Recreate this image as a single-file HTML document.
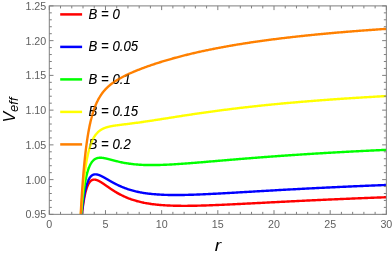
<!DOCTYPE html>
<html><head><meta charset="utf-8"><title>Veff</title>
<style>
html,body{margin:0;padding:0;background:#fff;}
body{width:392px;height:255px;overflow:hidden;font-family:"Liberation Sans",sans-serif;}
svg{display:block;will-change:transform;font-family:"Liberation Sans",sans-serif;}
</style></head><body>
<svg width="392" height="255" viewBox="0 0 392 255">
<rect width="392" height="255" fill="#fff"/>
<defs><clipPath id="c"><rect x="49.30" y="5.90" width="337.05" height="208.45"/></clipPath></defs>
<g><path d="M60.20 14.40H82.10" stroke="#ff0000" stroke-width="2.50" fill="none"/><text transform="translate(88.60 18.70) scale(0.917 1)" font-size="14.40" font-style="italic" fill="#000">B = 0</text><path d="M60.20 46.90H82.10" stroke="#0000ff" stroke-width="2.50" fill="none"/><text transform="translate(88.60 51.20) scale(0.917 1)" font-size="14.40" font-style="italic" fill="#000">B = 0.05</text><path d="M60.20 79.40H82.10" stroke="#00ff00" stroke-width="2.50" fill="none"/><text transform="translate(88.60 83.70) scale(0.917 1)" font-size="14.40" font-style="italic" fill="#000">B = 0.1</text><path d="M60.20 111.90H82.10" stroke="#ffff00" stroke-width="2.50" fill="none"/><text transform="translate(88.60 116.20) scale(0.917 1)" font-size="14.40" font-style="italic" fill="#000">B = 0.15</text><path d="M60.20 144.40H82.10" stroke="#ff8000" stroke-width="2.50" fill="none"/><text transform="translate(88.60 148.70) scale(0.917 1)" font-size="14.40" font-style="italic" fill="#000">B = 0.2</text></g>
<g clip-path="url(#c)" fill="none" stroke-width="2.40" stroke-linejoin="round"><path d="M79.20 249.08 L79.31 247.32 L79.41 245.61 L79.52 243.93 L79.62 242.29 L79.72 240.70 L79.83 239.14 L79.93 237.62 L80.04 236.13 L80.14 234.69 L80.25 233.27 L80.35 231.89 L80.45 230.54 L80.56 229.23 L80.66 227.94 L80.77 226.69 L80.87 225.46 L80.97 224.27 L81.08 223.10 L81.18 221.96 L81.29 220.85 L81.39 219.76 L81.50 218.70 L81.60 217.66 L81.70 216.65 L81.81 215.66 L81.91 214.70 L82.02 213.75 L82.12 212.83 L82.23 211.93 L82.33 211.06 L82.43 210.20 L82.54 209.36 L82.64 208.54 L82.75 207.74 L82.85 206.96 L82.95 206.20 L83.06 205.46 L83.16 204.73 L83.27 204.02 L83.37 203.33 L83.48 202.65 L83.58 201.99 L83.68 201.35 L83.79 200.72 L83.89 200.11 L84.00 199.51 L84.10 198.92 L84.20 198.35 L84.31 197.79 L84.41 197.25 L84.52 196.72 L84.62 196.20 L84.73 195.69 L84.83 195.20 L84.93 194.71 L85.04 194.24 L85.14 193.79 L85.25 193.34 L85.35 192.90 L85.45 192.48 L85.56 192.06 L85.66 191.66 L85.77 191.26 L85.87 190.88 L85.98 190.50 L86.08 190.14 L86.18 189.78 L86.29 189.43 L86.39 189.09 L86.50 188.76 L86.60 188.44 L86.70 188.13 L86.81 187.83 L86.91 187.53 L87.02 187.24 L87.12 186.96 L87.23 186.68 L87.33 186.42 L87.43 186.16 L87.54 185.91 L87.64 185.66 L87.75 185.42 L87.85 185.19 L87.96 184.97 L88.06 184.75 L88.16 184.54 L88.27 184.33 L88.37 184.13 L88.48 183.94 L88.58 183.75 L88.68 183.56 L88.79 183.39 L88.89 183.21 L89.00 183.05 L89.10 182.89 L89.21 182.73 L89.31 182.58 L89.41 182.43 L89.52 182.29 L89.62 182.15 L89.73 182.02 L89.83 181.89 L89.93 181.77 L90.04 181.65 L90.14 181.53 L90.25 181.42 L90.35 181.32 L90.46 181.21 L90.56 181.12 L90.66 181.02 L90.77 180.93 L90.87 180.84 L90.98 180.76 L91.08 180.68 L91.18 180.60 L91.29 180.53 L91.39 180.46 L91.50 180.39 L91.60 180.33 L91.71 180.27 L91.81 180.21 L91.91 180.15 L92.02 180.10 L92.12 180.05 L92.23 180.01 L92.33 179.97 L92.44 179.93 L92.54 179.89 L92.64 179.85 L92.75 179.82 L92.85 179.79 L92.96 179.76 L93.06 179.74 L93.16 179.72 L93.27 179.70 L93.37 179.68 L93.48 179.66 L93.58 179.65 L93.69 179.64 L93.79 179.63 L93.89 179.62 L94.00 179.61 L94.10 179.61 L94.21 179.61 L94.31 179.61 L94.41 179.61 L94.52 179.61 L94.62 179.62 L94.73 179.63 L94.83 179.64 L94.94 179.65 L95.04 179.66 L95.14 179.67 L95.25 179.69 L95.35 179.71 L95.46 179.73 L95.56 179.75 L95.66 179.77 L95.77 179.79 L95.87 179.81 L95.98 179.84 L96.08 179.87 L96.19 179.90 L96.29 179.92 L96.39 179.96 L96.50 179.99 L96.60 180.02 L96.71 180.05 L96.81 180.09 L96.92 180.13 L97.02 180.16 L97.12 180.20 L97.23 180.24 L97.33 180.28 L97.44 180.32 L97.54 180.37 L97.64 180.41 L97.75 180.45 L97.85 180.50 L97.96 180.55 L98.06 180.59 L98.17 180.64 L98.27 180.69 L98.37 180.74 L98.48 180.79 L98.58 180.84 L98.69 180.89 L98.79 180.94 L98.89 181.00 L99.00 181.05 L99.10 181.10 L99.21 181.16 L99.31 181.22 L99.42 181.27 L99.52 181.33 L99.62 181.39 L99.73 181.44 L99.83 181.50 L99.94 181.56 L100.04 181.62 L100.14 181.68 L100.25 181.74 L100.35 181.80 L100.46 181.87 L100.56 181.93 L100.67 181.99 L100.77 182.05 L100.87 182.12 L100.98 182.18 L101.08 182.25 L101.19 182.31 L101.29 182.38 L101.39 182.44 L101.50 182.51 L101.60 182.57 L101.71 182.64 L101.81 182.71 L101.92 182.77 L102.02 182.84 L102.12 182.91 L102.23 182.98 L102.33 183.04 L102.44 183.11 L102.54 183.18 L102.65 183.25 L102.75 183.32 L102.85 183.39 L102.96 183.46 L103.06 183.53 L103.17 183.60 L103.27 183.67 L103.37 183.74 L103.48 183.81 L103.58 183.88 L103.69 183.95 L103.79 184.02 L103.90 184.10 L104.00 184.17 L104.10 184.24 L104.21 184.31 L104.31 184.38 L104.42 184.45 L104.52 184.53 L104.62 184.60 L104.73 184.67 L104.83 184.74 L104.94 184.81 L105.04 184.89 L105.15 184.96 L105.25 185.03 L105.35 185.10 L105.46 185.18 L105.56 185.25 L105.67 185.32 L105.77 185.40 L105.87 185.47 L105.98 185.54 L106.08 185.61 L106.19 185.69 L106.29 185.76 L106.40 185.83 L106.50 185.91 L106.60 185.98 L106.71 186.05 L106.81 186.13 L106.92 186.20 L107.02 186.27 L107.13 186.34 L107.23 186.42 L107.33 186.49 L107.44 186.56 L107.54 186.64 L107.65 186.71 L107.75 186.78 L107.85 186.85 L107.96 186.93 L108.06 187.00 L108.17 187.07 L108.27 187.14 L108.38 187.22 L108.48 187.29 L108.58 187.36 L108.69 187.43 L108.79 187.50 L108.90 187.58 L109.00 187.65 L109.10 187.72 L109.21 187.79 L109.31 187.86 L109.42 187.93 L109.52 188.01 L109.63 188.08 L109.73 188.15 L109.83 188.22 L109.94 188.29 L110.04 188.36 L110.15 188.43 L110.25 188.50 L110.35 188.57 L110.46 188.64 L110.56 188.71 L110.67 188.78 L110.77 188.85 L110.88 188.92 L110.98 188.99 L111.08 189.06 L111.19 189.13 L111.29 189.20 L111.40 189.27 L111.50 189.34 L111.60 189.41 L111.71 189.48 L111.81 189.55 L111.92 189.62 L112.02 189.68 L112.13 189.75 L112.23 189.82 L112.33 189.89 L112.44 189.96 L112.54 190.02 L112.65 190.09 L112.75 190.16 L112.86 190.23 L112.96 190.29 L113.06 190.36 L113.17 190.43 L113.27 190.49 L113.38 190.56 L113.48 190.63 L113.58 190.69 L113.69 190.76 L113.79 190.82 L113.90 190.89 L114.00 190.96 L114.11 191.02 L114.21 191.09 L114.31 191.15 L114.42 191.22 L114.52 191.28 L114.63 191.35 L114.73 191.41 L114.83 191.47 L114.94 191.54 L115.04 191.60 L115.15 191.66 L115.25 191.73 L115.36 191.79 L115.46 191.85 L115.56 191.92 L115.67 191.98 L115.77 192.04 L115.88 192.10 L115.98 192.17 L116.08 192.23 L116.19 192.29 L116.29 192.35 L116.40 192.41 L116.50 192.48 L116.61 192.54 L116.71 192.60 L117.61 193.12 L118.51 193.62 L119.42 194.11 L120.32 194.59 L121.22 195.05 L122.12 195.50 L123.02 195.94 L123.92 196.36 L124.83 196.77 L125.73 197.17 L126.63 197.55 L127.53 197.92 L128.43 198.28 L129.34 198.62 L130.24 198.96 L131.14 199.28 L132.04 199.59 L132.94 199.89 L133.84 200.17 L134.75 200.45 L135.65 200.72 L136.55 200.98 L137.45 201.22 L138.35 201.46 L139.26 201.69 L140.16 201.91 L141.06 202.12 L141.96 202.32 L142.86 202.52 L143.76 202.71 L144.67 202.88 L145.57 203.06 L146.47 203.22 L147.37 203.38 L148.27 203.53 L149.18 203.67 L150.08 203.81 L150.98 203.94 L151.88 204.07 L152.78 204.19 L153.68 204.30 L154.59 204.41 L155.49 204.51 L156.39 204.61 L157.29 204.70 L158.19 204.79 L159.09 204.88 L160.00 204.96 L160.90 205.03 L161.80 205.10 L162.70 205.17 L163.60 205.23 L164.51 205.29 L165.41 205.35 L166.31 205.40 L167.21 205.45 L168.11 205.49 L169.01 205.53 L169.92 205.57 L170.82 205.61 L171.72 205.64 L172.62 205.67 L173.52 205.70 L174.43 205.72 L175.33 205.74 L176.23 205.76 L177.13 205.78 L178.03 205.79 L178.93 205.81 L179.84 205.82 L180.74 205.82 L181.64 205.83 L182.54 205.84 L183.44 205.84 L184.35 205.84 L185.25 205.84 L186.15 205.83 L187.05 205.83 L187.95 205.82 L188.85 205.81 L189.76 205.81 L190.66 205.79 L191.56 205.78 L192.46 205.77 L193.36 205.75 L194.27 205.74 L195.17 205.72 L196.07 205.70 L196.97 205.68 L197.87 205.66 L198.77 205.64 L199.68 205.62 L200.58 205.59 L201.48 205.57 L202.38 205.54 L203.28 205.51 L204.19 205.49 L205.09 205.46 L205.99 205.43 L206.89 205.40 L207.79 205.37 L208.69 205.34 L209.60 205.30 L210.50 205.27 L211.40 205.24 L212.30 205.20 L213.20 205.17 L214.11 205.13 L215.01 205.10 L215.91 205.06 L216.81 205.02 L217.71 204.99 L218.61 204.95 L219.52 204.91 L220.42 204.87 L221.32 204.83 L222.22 204.79 L223.12 204.75 L224.02 204.71 L224.93 204.67 L225.83 204.63 L226.73 204.59 L227.63 204.55 L228.53 204.51 L229.44 204.46 L230.34 204.42 L231.24 204.38 L232.14 204.33 L233.04 204.29 L233.94 204.25 L234.85 204.20 L235.75 204.16 L236.65 204.12 L237.55 204.07 L238.45 204.03 L239.36 203.98 L240.26 203.94 L241.16 203.89 L242.06 203.85 L242.96 203.80 L243.86 203.76 L244.77 203.71 L245.67 203.67 L246.57 203.62 L247.47 203.57 L248.37 203.53 L249.28 203.48 L250.18 203.44 L251.08 203.39 L251.98 203.34 L252.88 203.30 L253.78 203.25 L254.69 203.20 L255.59 203.16 L256.49 203.11 L257.39 203.06 L258.29 203.02 L259.20 202.97 L260.10 202.93 L261.00 202.88 L261.90 202.83 L262.80 202.79 L263.70 202.74 L264.61 202.69 L265.51 202.65 L266.41 202.60 L267.31 202.55 L268.21 202.51 L269.12 202.46 L270.02 202.41 L270.92 202.37 L271.82 202.32 L272.72 202.28 L273.62 202.23 L274.53 202.18 L275.43 202.14 L276.33 202.09 L277.23 202.05 L278.13 202.00 L279.04 201.95 L279.94 201.91 L280.84 201.86 L281.74 201.82 L282.64 201.77 L283.54 201.73 L284.45 201.68 L285.35 201.64 L286.25 201.59 L287.15 201.54 L288.05 201.50 L288.95 201.45 L289.86 201.41 L290.76 201.36 L291.66 201.32 L292.56 201.28 L293.46 201.23 L294.37 201.19 L295.27 201.14 L296.17 201.10 L297.07 201.05 L297.97 201.01 L298.87 200.97 L299.78 200.92 L300.68 200.88 L301.58 200.83 L302.48 200.79 L303.38 200.75 L304.29 200.70 L305.19 200.66 L306.09 200.62 L306.99 200.57 L307.89 200.53 L308.79 200.49 L309.70 200.45 L310.60 200.40 L311.50 200.36 L312.40 200.32 L313.30 200.28 L314.21 200.23 L315.11 200.19 L316.01 200.15 L316.91 200.11 L317.81 200.07 L318.71 200.02 L319.62 199.98 L320.52 199.94 L321.42 199.90 L322.32 199.86 L323.22 199.82 L324.13 199.78 L325.03 199.74 L325.93 199.69 L326.83 199.65 L327.73 199.61 L328.63 199.57 L329.54 199.53 L330.44 199.49 L331.34 199.45 L332.24 199.41 L333.14 199.37 L334.05 199.33 L334.95 199.29 L335.85 199.25 L336.75 199.21 L337.65 199.18 L338.55 199.14 L339.46 199.10 L340.36 199.06 L341.26 199.02 L342.16 198.98 L343.06 198.94 L343.97 198.90 L344.87 198.87 L345.77 198.83 L346.67 198.79 L347.57 198.75 L348.47 198.71 L349.38 198.68 L350.28 198.64 L351.18 198.60 L352.08 198.56 L352.98 198.53 L353.88 198.49 L354.79 198.45 L355.69 198.42 L356.59 198.38 L357.49 198.34 L358.39 198.31 L359.30 198.27 L360.20 198.23 L361.10 198.20 L362.00 198.16 L362.90 198.12 L363.80 198.09 L364.71 198.05 L365.61 198.02 L366.51 197.98 L367.41 197.95 L368.31 197.91 L369.22 197.88 L370.12 197.84 L371.02 197.81 L371.92 197.77 L372.82 197.74 L373.72 197.70 L374.63 197.67 L375.53 197.63 L376.43 197.60 L377.33 197.56 L378.23 197.53 L379.14 197.50 L380.04 197.46 L380.94 197.43 L381.84 197.39 L382.74 197.36 L383.64 197.33 L384.55 197.29 L385.45 197.26 L386.35 197.23" stroke="#ff0000"/><path d="M79.20 248.43 L79.31 246.62 L79.41 244.84 L79.52 243.12 L79.62 241.43 L79.72 239.78 L79.83 238.17 L79.93 236.60 L80.04 235.07 L80.14 233.57 L80.25 232.11 L80.35 230.68 L80.45 229.29 L80.56 227.93 L80.66 226.60 L80.77 225.30 L80.87 224.03 L80.97 222.79 L81.08 221.58 L81.18 220.39 L81.29 219.24 L81.39 218.11 L81.50 217.00 L81.60 215.93 L81.70 214.87 L81.81 213.84 L81.91 212.84 L82.02 211.85 L82.12 210.89 L82.23 209.95 L82.33 209.04 L82.43 208.14 L82.54 207.26 L82.64 206.41 L82.75 205.57 L82.85 204.75 L82.95 203.95 L83.06 203.17 L83.16 202.41 L83.27 201.66 L83.37 200.94 L83.48 200.22 L83.58 199.53 L83.68 198.85 L83.79 198.18 L83.89 197.53 L84.00 196.90 L84.10 196.28 L84.20 195.67 L84.31 195.08 L84.41 194.50 L84.52 193.94 L84.62 193.39 L84.73 192.85 L84.83 192.32 L84.93 191.81 L85.04 191.31 L85.14 190.82 L85.25 190.34 L85.35 189.87 L85.45 189.41 L85.56 188.97 L85.66 188.53 L85.77 188.10 L85.87 187.69 L85.98 187.28 L86.08 186.89 L86.18 186.50 L86.29 186.12 L86.39 185.76 L86.50 185.40 L86.60 185.05 L86.70 184.70 L86.81 184.37 L86.91 184.05 L87.02 183.73 L87.12 183.42 L87.23 183.12 L87.33 182.82 L87.43 182.54 L87.54 182.26 L87.64 181.98 L87.75 181.72 L87.85 181.46 L87.96 181.21 L88.06 180.96 L88.16 180.72 L88.27 180.49 L88.37 180.26 L88.48 180.04 L88.58 179.83 L88.68 179.62 L88.79 179.41 L88.89 179.22 L89.00 179.02 L89.10 178.84 L89.21 178.66 L89.31 178.48 L89.41 178.31 L89.52 178.14 L89.62 177.98 L89.73 177.82 L89.83 177.67 L89.93 177.52 L90.04 177.38 L90.14 177.24 L90.25 177.10 L90.35 176.97 L90.46 176.85 L90.56 176.72 L90.66 176.61 L90.77 176.49 L90.87 176.38 L90.98 176.27 L91.08 176.17 L91.18 176.07 L91.29 175.97 L91.39 175.88 L91.50 175.79 L91.60 175.71 L91.71 175.62 L91.81 175.54 L91.91 175.47 L92.02 175.39 L92.12 175.32 L92.23 175.25 L92.33 175.19 L92.44 175.13 L92.54 175.07 L92.64 175.01 L92.75 174.96 L92.85 174.91 L92.96 174.86 L93.06 174.81 L93.16 174.77 L93.27 174.73 L93.37 174.69 L93.48 174.65 L93.58 174.62 L93.69 174.59 L93.79 174.56 L93.89 174.53 L94.00 174.50 L94.10 174.48 L94.21 174.46 L94.31 174.44 L94.41 174.42 L94.52 174.40 L94.62 174.39 L94.73 174.38 L94.83 174.37 L94.94 174.36 L95.04 174.35 L95.14 174.35 L95.25 174.34 L95.35 174.34 L95.46 174.34 L95.56 174.34 L95.66 174.34 L95.77 174.35 L95.87 174.35 L95.98 174.36 L96.08 174.37 L96.19 174.38 L96.29 174.39 L96.39 174.40 L96.50 174.42 L96.60 174.43 L96.71 174.45 L96.81 174.46 L96.92 174.48 L97.02 174.50 L97.12 174.52 L97.23 174.55 L97.33 174.57 L97.44 174.59 L97.54 174.62 L97.64 174.64 L97.75 174.67 L97.85 174.70 L97.96 174.73 L98.06 174.76 L98.17 174.79 L98.27 174.82 L98.37 174.85 L98.48 174.88 L98.58 174.92 L98.69 174.95 L98.79 174.99 L98.89 175.03 L99.00 175.06 L99.10 175.10 L99.21 175.14 L99.31 175.18 L99.42 175.22 L99.52 175.26 L99.62 175.30 L99.73 175.34 L99.83 175.39 L99.94 175.43 L100.04 175.47 L100.14 175.52 L100.25 175.56 L100.35 175.61 L100.46 175.65 L100.56 175.70 L100.67 175.75 L100.77 175.80 L100.87 175.84 L100.98 175.89 L101.08 175.94 L101.19 175.99 L101.29 176.04 L101.39 176.09 L101.50 176.14 L101.60 176.19 L101.71 176.24 L101.81 176.30 L101.92 176.35 L102.02 176.40 L102.12 176.45 L102.23 176.51 L102.33 176.56 L102.44 176.61 L102.54 176.67 L102.65 176.72 L102.75 176.78 L102.85 176.83 L102.96 176.89 L103.06 176.94 L103.17 177.00 L103.27 177.06 L103.37 177.11 L103.48 177.17 L103.58 177.23 L103.69 177.28 L103.79 177.34 L103.90 177.40 L104.00 177.46 L104.10 177.51 L104.21 177.57 L104.31 177.63 L104.42 177.69 L104.52 177.75 L104.62 177.81 L104.73 177.86 L104.83 177.92 L104.94 177.98 L105.04 178.04 L105.15 178.10 L105.25 178.16 L105.35 178.22 L105.46 178.28 L105.56 178.34 L105.67 178.40 L105.77 178.46 L105.87 178.52 L105.98 178.58 L106.08 178.64 L106.19 178.70 L106.29 178.76 L106.40 178.82 L106.50 178.88 L106.60 178.94 L106.71 179.00 L106.81 179.06 L106.92 179.12 L107.02 179.18 L107.13 179.24 L107.23 179.30 L107.33 179.36 L107.44 179.42 L107.54 179.48 L107.65 179.55 L107.75 179.61 L107.85 179.67 L107.96 179.73 L108.06 179.79 L108.17 179.85 L108.27 179.91 L108.38 179.97 L108.48 180.03 L108.58 180.09 L108.69 180.15 L108.79 180.21 L108.90 180.27 L109.00 180.33 L109.10 180.39 L109.21 180.45 L109.31 180.51 L109.42 180.57 L109.52 180.63 L109.63 180.69 L109.73 180.75 L109.83 180.81 L109.94 180.87 L110.04 180.93 L110.15 180.99 L110.25 181.05 L110.35 181.11 L110.46 181.17 L110.56 181.23 L110.67 181.29 L110.77 181.35 L110.88 181.40 L110.98 181.46 L111.08 181.52 L111.19 181.58 L111.29 181.64 L111.40 181.70 L111.50 181.76 L111.60 181.81 L111.71 181.87 L111.81 181.93 L111.92 181.99 L112.02 182.05 L112.13 182.10 L112.23 182.16 L112.33 182.22 L112.44 182.28 L112.54 182.33 L112.65 182.39 L112.75 182.45 L112.86 182.51 L112.96 182.56 L113.06 182.62 L113.17 182.68 L113.27 182.73 L113.38 182.79 L113.48 182.84 L113.58 182.90 L113.69 182.96 L113.79 183.01 L113.90 183.07 L114.00 183.12 L114.11 183.18 L114.21 183.23 L114.31 183.29 L114.42 183.34 L114.52 183.40 L114.63 183.45 L114.73 183.51 L114.83 183.56 L114.94 183.62 L115.04 183.67 L115.15 183.73 L115.25 183.78 L115.36 183.83 L115.46 183.89 L115.56 183.94 L115.67 183.99 L115.77 184.05 L115.88 184.10 L115.98 184.15 L116.08 184.21 L116.19 184.26 L116.29 184.31 L116.40 184.36 L116.50 184.41 L116.61 184.47 L116.71 184.52 L117.61 184.96 L118.51 185.39 L119.42 185.81 L120.32 186.21 L121.22 186.61 L122.12 186.99 L123.02 187.36 L123.92 187.71 L124.83 188.06 L125.73 188.39 L126.63 188.72 L127.53 189.03 L128.43 189.33 L129.34 189.62 L130.24 189.90 L131.14 190.16 L132.04 190.42 L132.94 190.67 L133.84 190.91 L134.75 191.14 L135.65 191.36 L136.55 191.57 L137.45 191.77 L138.35 191.96 L139.26 192.15 L140.16 192.33 L141.06 192.49 L141.96 192.66 L142.86 192.81 L143.76 192.96 L144.67 193.10 L145.57 193.23 L146.47 193.36 L147.37 193.48 L148.27 193.60 L149.18 193.71 L150.08 193.81 L150.98 193.91 L151.88 194.00 L152.78 194.09 L153.68 194.17 L154.59 194.25 L155.49 194.32 L156.39 194.39 L157.29 194.46 L158.19 194.52 L159.09 194.57 L160.00 194.63 L160.90 194.67 L161.80 194.72 L162.70 194.76 L163.60 194.80 L164.51 194.83 L165.41 194.86 L166.31 194.89 L167.21 194.91 L168.11 194.94 L169.01 194.96 L169.92 194.97 L170.82 194.99 L171.72 195.00 L172.62 195.00 L173.52 195.01 L174.43 195.02 L175.33 195.02 L176.23 195.02 L177.13 195.01 L178.03 195.01 L178.93 195.00 L179.84 194.99 L180.74 194.98 L181.64 194.97 L182.54 194.96 L183.44 194.94 L184.35 194.93 L185.25 194.91 L186.15 194.89 L187.05 194.87 L187.95 194.85 L188.85 194.82 L189.76 194.80 L190.66 194.77 L191.56 194.74 L192.46 194.71 L193.36 194.68 L194.27 194.65 L195.17 194.62 L196.07 194.59 L196.97 194.55 L197.87 194.52 L198.77 194.48 L199.68 194.45 L200.58 194.41 L201.48 194.37 L202.38 194.33 L203.28 194.30 L204.19 194.26 L205.09 194.21 L205.99 194.17 L206.89 194.13 L207.79 194.09 L208.69 194.05 L209.60 194.00 L210.50 193.96 L211.40 193.91 L212.30 193.87 L213.20 193.82 L214.11 193.78 L215.01 193.73 L215.91 193.68 L216.81 193.63 L217.71 193.59 L218.61 193.54 L219.52 193.49 L220.42 193.44 L221.32 193.39 L222.22 193.34 L223.12 193.29 L224.02 193.24 L224.93 193.19 L225.83 193.14 L226.73 193.09 L227.63 193.04 L228.53 192.99 L229.44 192.94 L230.34 192.89 L231.24 192.84 L232.14 192.79 L233.04 192.74 L233.94 192.68 L234.85 192.63 L235.75 192.58 L236.65 192.53 L237.55 192.47 L238.45 192.42 L239.36 192.37 L240.26 192.32 L241.16 192.27 L242.06 192.21 L242.96 192.16 L243.86 192.11 L244.77 192.05 L245.67 192.00 L246.57 191.95 L247.47 191.90 L248.37 191.84 L249.28 191.79 L250.18 191.74 L251.08 191.68 L251.98 191.63 L252.88 191.58 L253.78 191.53 L254.69 191.47 L255.59 191.42 L256.49 191.37 L257.39 191.32 L258.29 191.26 L259.20 191.21 L260.10 191.16 L261.00 191.11 L261.90 191.05 L262.80 191.00 L263.70 190.95 L264.61 190.90 L265.51 190.84 L266.41 190.79 L267.31 190.74 L268.21 190.69 L269.12 190.64 L270.02 190.58 L270.92 190.53 L271.82 190.48 L272.72 190.43 L273.62 190.38 L274.53 190.33 L275.43 190.28 L276.33 190.23 L277.23 190.17 L278.13 190.12 L279.04 190.07 L279.94 190.02 L280.84 189.97 L281.74 189.92 L282.64 189.87 L283.54 189.82 L284.45 189.77 L285.35 189.72 L286.25 189.67 L287.15 189.62 L288.05 189.57 L288.95 189.52 L289.86 189.47 L290.76 189.42 L291.66 189.37 L292.56 189.33 L293.46 189.28 L294.37 189.23 L295.27 189.18 L296.17 189.13 L297.07 189.08 L297.97 189.03 L298.87 188.99 L299.78 188.94 L300.68 188.89 L301.58 188.84 L302.48 188.80 L303.38 188.75 L304.29 188.70 L305.19 188.65 L306.09 188.61 L306.99 188.56 L307.89 188.51 L308.79 188.47 L309.70 188.42 L310.60 188.37 L311.50 188.33 L312.40 188.28 L313.30 188.24 L314.21 188.19 L315.11 188.14 L316.01 188.10 L316.91 188.05 L317.81 188.01 L318.71 187.96 L319.62 187.92 L320.52 187.87 L321.42 187.83 L322.32 187.78 L323.22 187.74 L324.13 187.70 L325.03 187.65 L325.93 187.61 L326.83 187.56 L327.73 187.52 L328.63 187.48 L329.54 187.43 L330.44 187.39 L331.34 187.35 L332.24 187.31 L333.14 187.26 L334.05 187.22 L334.95 187.18 L335.85 187.13 L336.75 187.09 L337.65 187.05 L338.55 187.01 L339.46 186.97 L340.36 186.92 L341.26 186.88 L342.16 186.84 L343.06 186.80 L343.97 186.76 L344.87 186.72 L345.77 186.68 L346.67 186.64 L347.57 186.60 L348.47 186.56 L349.38 186.52 L350.28 186.48 L351.18 186.44 L352.08 186.40 L352.98 186.36 L353.88 186.32 L354.79 186.28 L355.69 186.24 L356.59 186.20 L357.49 186.16 L358.39 186.12 L359.30 186.08 L360.20 186.04 L361.10 186.00 L362.00 185.97 L362.90 185.93 L363.80 185.89 L364.71 185.85 L365.61 185.81 L366.51 185.77 L367.41 185.74 L368.31 185.70 L369.22 185.66 L370.12 185.62 L371.02 185.59 L371.92 185.55 L372.82 185.51 L373.72 185.48 L374.63 185.44 L375.53 185.40 L376.43 185.37 L377.33 185.33 L378.23 185.29 L379.14 185.26 L380.04 185.22 L380.94 185.19 L381.84 185.15 L382.74 185.12 L383.64 185.08 L384.55 185.04 L385.45 185.01 L386.35 184.97" stroke="#0000ff"/><path d="M79.10 248.95 L79.20 246.93 L79.31 244.96 L79.41 243.03 L79.52 241.14 L79.62 239.30 L79.72 237.50 L79.83 235.74 L79.93 234.02 L80.04 232.34 L80.14 230.70 L80.25 229.09 L80.35 227.52 L80.45 225.99 L80.56 224.49 L80.66 223.02 L80.77 221.59 L80.87 220.18 L80.97 218.81 L81.08 217.47 L81.18 216.15 L81.29 214.87 L81.39 213.61 L81.50 212.38 L81.60 211.18 L81.70 210.00 L81.81 208.85 L81.91 207.72 L82.02 206.62 L82.12 205.54 L82.23 204.48 L82.33 203.44 L82.43 202.43 L82.54 201.44 L82.64 200.47 L82.75 199.52 L82.85 198.59 L82.95 197.68 L83.06 196.79 L83.16 195.92 L83.27 195.06 L83.37 194.23 L83.48 193.41 L83.58 192.61 L83.68 191.82 L83.79 191.05 L83.89 190.30 L84.00 189.56 L84.10 188.84 L84.20 188.14 L84.31 187.44 L84.41 186.77 L84.52 186.10 L84.62 185.45 L84.73 184.82 L84.83 184.19 L84.93 183.58 L85.04 182.99 L85.14 182.40 L85.25 181.83 L85.35 181.27 L85.45 180.72 L85.56 180.18 L85.66 179.65 L85.77 179.13 L85.87 178.63 L85.98 178.13 L86.08 177.65 L86.18 177.17 L86.29 176.71 L86.39 176.25 L86.50 175.81 L86.60 175.37 L86.70 174.94 L86.81 174.52 L86.91 174.11 L87.02 173.71 L87.12 173.32 L87.23 172.94 L87.33 172.56 L87.43 172.19 L87.54 171.83 L87.64 171.48 L87.75 171.13 L87.85 170.79 L87.96 170.46 L88.06 170.13 L88.16 169.82 L88.27 169.50 L88.37 169.20 L88.48 168.90 L88.58 168.61 L88.68 168.32 L88.79 168.05 L88.89 167.77 L89.00 167.50 L89.10 167.24 L89.21 166.99 L89.31 166.74 L89.41 166.49 L89.52 166.25 L89.62 166.02 L89.73 165.79 L89.83 165.56 L89.93 165.34 L90.04 165.13 L90.14 164.92 L90.25 164.71 L90.35 164.51 L90.46 164.32 L90.56 164.12 L90.66 163.94 L90.77 163.75 L90.87 163.57 L90.98 163.40 L91.08 163.23 L91.18 163.06 L91.29 162.90 L91.39 162.74 L91.50 162.58 L91.60 162.43 L91.71 162.28 L91.81 162.14 L91.91 161.99 L92.02 161.86 L92.12 161.72 L92.23 161.59 L92.33 161.46 L92.44 161.34 L92.54 161.21 L92.64 161.09 L92.75 160.98 L92.85 160.87 L92.96 160.75 L93.06 160.65 L93.16 160.54 L93.27 160.44 L93.37 160.34 L93.48 160.24 L93.58 160.15 L93.69 160.06 L93.79 159.97 L93.89 159.88 L94.00 159.80 L94.10 159.71 L94.21 159.63 L94.31 159.55 L94.41 159.48 L94.52 159.41 L94.62 159.33 L94.73 159.26 L94.83 159.20 L94.94 159.13 L95.04 159.07 L95.14 159.01 L95.25 158.95 L95.35 158.89 L95.46 158.83 L95.56 158.78 L95.66 158.73 L95.77 158.68 L95.87 158.63 L95.98 158.58 L96.08 158.54 L96.19 158.49 L96.29 158.45 L96.39 158.41 L96.50 158.37 L96.60 158.33 L96.71 158.29 L96.81 158.26 L96.92 158.22 L97.02 158.19 L97.12 158.16 L97.23 158.13 L97.33 158.10 L97.44 158.08 L97.54 158.05 L97.64 158.03 L97.75 158.00 L97.85 157.98 L97.96 157.96 L98.06 157.94 L98.17 157.92 L98.27 157.90 L98.37 157.89 L98.48 157.87 L98.58 157.86 L98.69 157.84 L98.79 157.83 L98.89 157.82 L99.00 157.81 L99.10 157.80 L99.21 157.79 L99.31 157.78 L99.42 157.77 L99.52 157.77 L99.62 157.76 L99.73 157.76 L99.83 157.75 L99.94 157.75 L100.04 157.75 L100.14 157.75 L100.25 157.75 L100.35 157.75 L100.46 157.75 L100.56 157.75 L100.67 157.75 L100.77 157.75 L100.87 157.76 L100.98 157.76 L101.08 157.76 L101.19 157.77 L101.29 157.78 L101.39 157.78 L101.50 157.79 L101.60 157.80 L101.71 157.81 L101.81 157.81 L101.92 157.82 L102.02 157.83 L102.12 157.84 L102.23 157.86 L102.33 157.87 L102.44 157.88 L102.54 157.89 L102.65 157.90 L102.75 157.92 L102.85 157.93 L102.96 157.94 L103.06 157.96 L103.17 157.97 L103.27 157.99 L103.37 158.00 L103.48 158.02 L103.58 158.04 L103.69 158.05 L103.79 158.07 L103.90 158.09 L104.00 158.11 L104.10 158.13 L104.21 158.14 L104.31 158.16 L104.42 158.18 L104.52 158.20 L104.62 158.22 L104.73 158.24 L104.83 158.26 L104.94 158.28 L105.04 158.30 L105.15 158.32 L105.25 158.35 L105.35 158.37 L105.46 158.39 L105.56 158.41 L105.67 158.43 L105.77 158.46 L105.87 158.48 L105.98 158.50 L106.08 158.52 L106.19 158.55 L106.29 158.57 L106.40 158.60 L106.50 158.62 L106.60 158.64 L106.71 158.67 L106.81 158.69 L106.92 158.72 L107.02 158.74 L107.13 158.77 L107.23 158.79 L107.33 158.82 L107.44 158.84 L107.54 158.87 L107.65 158.89 L107.75 158.92 L107.85 158.94 L107.96 158.97 L108.06 159.00 L108.17 159.02 L108.27 159.05 L108.38 159.07 L108.48 159.10 L108.58 159.13 L108.69 159.15 L108.79 159.18 L108.90 159.21 L109.00 159.23 L109.10 159.26 L109.21 159.29 L109.31 159.31 L109.42 159.34 L109.52 159.37 L109.63 159.40 L109.73 159.42 L109.83 159.45 L109.94 159.48 L110.04 159.50 L110.15 159.53 L110.25 159.56 L110.35 159.59 L110.46 159.61 L110.56 159.64 L110.67 159.67 L110.77 159.70 L110.88 159.72 L110.98 159.75 L111.08 159.78 L111.19 159.81 L111.29 159.84 L111.40 159.86 L111.50 159.89 L111.60 159.92 L111.71 159.95 L111.81 159.97 L111.92 160.00 L112.02 160.03 L112.13 160.06 L112.23 160.08 L112.33 160.11 L112.44 160.14 L112.54 160.17 L112.65 160.19 L112.75 160.22 L112.86 160.25 L112.96 160.28 L113.06 160.30 L113.17 160.33 L113.27 160.36 L113.38 160.39 L113.48 160.41 L113.58 160.44 L113.69 160.47 L113.79 160.49 L113.90 160.52 L114.00 160.55 L114.11 160.58 L114.21 160.60 L114.31 160.63 L114.42 160.66 L114.52 160.68 L114.63 160.71 L114.73 160.74 L114.83 160.76 L114.94 160.79 L115.04 160.82 L115.15 160.84 L115.25 160.87 L115.36 160.90 L115.46 160.92 L115.56 160.95 L115.67 160.98 L115.77 161.00 L115.88 161.03 L115.98 161.05 L116.08 161.08 L116.19 161.11 L116.29 161.13 L116.40 161.16 L116.50 161.18 L116.61 161.21 L116.71 161.23 L117.61 161.45 L118.51 161.67 L119.42 161.87 L120.32 162.07 L121.22 162.27 L122.12 162.45 L123.02 162.63 L123.92 162.81 L124.83 162.97 L125.73 163.13 L126.63 163.28 L127.53 163.42 L128.43 163.56 L129.34 163.69 L130.24 163.81 L131.14 163.93 L132.04 164.04 L132.94 164.14 L133.84 164.24 L134.75 164.33 L135.65 164.41 L136.55 164.49 L137.45 164.57 L138.35 164.63 L139.26 164.70 L140.16 164.75 L141.06 164.80 L141.96 164.85 L142.86 164.89 L143.76 164.93 L144.67 164.96 L145.57 164.99 L146.47 165.01 L147.37 165.03 L148.27 165.05 L149.18 165.06 L150.08 165.07 L150.98 165.07 L151.88 165.07 L152.78 165.07 L153.68 165.07 L154.59 165.06 L155.49 165.05 L156.39 165.03 L157.29 165.01 L158.19 164.99 L159.09 164.97 L160.00 164.95 L160.90 164.92 L161.80 164.89 L162.70 164.86 L163.60 164.82 L164.51 164.79 L165.41 164.75 L166.31 164.71 L167.21 164.67 L168.11 164.62 L169.01 164.58 L169.92 164.53 L170.82 164.48 L171.72 164.43 L172.62 164.38 L173.52 164.33 L174.43 164.27 L175.33 164.22 L176.23 164.16 L177.13 164.10 L178.03 164.04 L178.93 163.98 L179.84 163.92 L180.74 163.86 L181.64 163.80 L182.54 163.73 L183.44 163.67 L184.35 163.60 L185.25 163.54 L186.15 163.47 L187.05 163.40 L187.95 163.34 L188.85 163.27 L189.76 163.20 L190.66 163.13 L191.56 163.06 L192.46 162.99 L193.36 162.91 L194.27 162.84 L195.17 162.77 L196.07 162.70 L196.97 162.62 L197.87 162.55 L198.77 162.48 L199.68 162.40 L200.58 162.33 L201.48 162.25 L202.38 162.18 L203.28 162.10 L204.19 162.03 L205.09 161.95 L205.99 161.88 L206.89 161.80 L207.79 161.72 L208.69 161.65 L209.60 161.57 L210.50 161.50 L211.40 161.42 L212.30 161.34 L213.20 161.27 L214.11 161.19 L215.01 161.11 L215.91 161.04 L216.81 160.96 L217.71 160.88 L218.61 160.81 L219.52 160.73 L220.42 160.65 L221.32 160.58 L222.22 160.50 L223.12 160.42 L224.02 160.35 L224.93 160.27 L225.83 160.20 L226.73 160.12 L227.63 160.04 L228.53 159.97 L229.44 159.89 L230.34 159.82 L231.24 159.74 L232.14 159.67 L233.04 159.59 L233.94 159.52 L234.85 159.44 L235.75 159.37 L236.65 159.29 L237.55 159.22 L238.45 159.14 L239.36 159.07 L240.26 158.99 L241.16 158.92 L242.06 158.85 L242.96 158.77 L243.86 158.70 L244.77 158.63 L245.67 158.55 L246.57 158.48 L247.47 158.41 L248.37 158.34 L249.28 158.26 L250.18 158.19 L251.08 158.12 L251.98 158.05 L252.88 157.98 L253.78 157.91 L254.69 157.84 L255.59 157.77 L256.49 157.69 L257.39 157.62 L258.29 157.55 L259.20 157.48 L260.10 157.42 L261.00 157.35 L261.90 157.28 L262.80 157.21 L263.70 157.14 L264.61 157.07 L265.51 157.00 L266.41 156.93 L267.31 156.87 L268.21 156.80 L269.12 156.73 L270.02 156.67 L270.92 156.60 L271.82 156.53 L272.72 156.47 L273.62 156.40 L274.53 156.33 L275.43 156.27 L276.33 156.20 L277.23 156.14 L278.13 156.07 L279.04 156.01 L279.94 155.94 L280.84 155.88 L281.74 155.82 L282.64 155.75 L283.54 155.69 L284.45 155.63 L285.35 155.56 L286.25 155.50 L287.15 155.44 L288.05 155.38 L288.95 155.31 L289.86 155.25 L290.76 155.19 L291.66 155.13 L292.56 155.07 L293.46 155.01 L294.37 154.95 L295.27 154.89 L296.17 154.83 L297.07 154.77 L297.97 154.71 L298.87 154.65 L299.78 154.59 L300.68 154.53 L301.58 154.47 L302.48 154.41 L303.38 154.35 L304.29 154.29 L305.19 154.24 L306.09 154.18 L306.99 154.12 L307.89 154.06 L308.79 154.01 L309.70 153.95 L310.60 153.89 L311.50 153.84 L312.40 153.78 L313.30 153.72 L314.21 153.67 L315.11 153.61 L316.01 153.56 L316.91 153.50 L317.81 153.45 L318.71 153.39 L319.62 153.34 L320.52 153.29 L321.42 153.23 L322.32 153.18 L323.22 153.12 L324.13 153.07 L325.03 153.02 L325.93 152.97 L326.83 152.91 L327.73 152.86 L328.63 152.81 L329.54 152.76 L330.44 152.70 L331.34 152.65 L332.24 152.60 L333.14 152.55 L334.05 152.50 L334.95 152.45 L335.85 152.40 L336.75 152.35 L337.65 152.30 L338.55 152.25 L339.46 152.20 L340.36 152.15 L341.26 152.10 L342.16 152.05 L343.06 152.00 L343.97 151.95 L344.87 151.90 L345.77 151.85 L346.67 151.80 L347.57 151.76 L348.47 151.71 L349.38 151.66 L350.28 151.61 L351.18 151.57 L352.08 151.52 L352.98 151.47 L353.88 151.42 L354.79 151.38 L355.69 151.33 L356.59 151.28 L357.49 151.24 L358.39 151.19 L359.30 151.15 L360.20 151.10 L361.10 151.06 L362.00 151.01 L362.90 150.97 L363.80 150.92 L364.71 150.88 L365.61 150.83 L366.51 150.79 L367.41 150.74 L368.31 150.70 L369.22 150.66 L370.12 150.61 L371.02 150.57 L371.92 150.52 L372.82 150.48 L373.72 150.44 L374.63 150.40 L375.53 150.35 L376.43 150.31 L377.33 150.27 L378.23 150.23 L379.14 150.18 L380.04 150.14 L380.94 150.10 L381.84 150.06 L382.74 150.02 L383.64 149.98 L384.55 149.93 L385.45 149.89 L386.35 149.85" stroke="#00ff00"/><path d="M79.10 248.27 L79.20 245.98 L79.31 243.73 L79.41 241.53 L79.52 239.38 L79.62 237.28 L79.72 235.22 L79.83 233.21 L79.93 231.24 L80.04 229.31 L80.14 227.43 L80.25 225.58 L80.35 223.77 L80.45 222.00 L80.56 220.27 L80.66 218.57 L80.77 216.91 L80.87 215.28 L80.97 213.69 L81.08 212.13 L81.18 210.60 L81.29 209.10 L81.39 207.63 L81.50 206.19 L81.60 204.78 L81.70 203.39 L81.81 202.04 L81.91 200.71 L82.02 199.41 L82.12 198.13 L82.23 196.88 L82.33 195.65 L82.43 194.44 L82.54 193.26 L82.64 192.10 L82.75 190.97 L82.85 189.85 L82.95 188.76 L83.06 187.69 L83.16 186.63 L83.27 185.60 L83.37 184.59 L83.48 183.59 L83.58 182.62 L83.68 181.66 L83.79 180.72 L83.89 179.80 L84.00 178.89 L84.10 178.01 L84.20 177.13 L84.31 176.28 L84.41 175.44 L84.52 174.61 L84.62 173.80 L84.73 173.01 L84.83 172.23 L84.93 171.46 L85.04 170.71 L85.14 169.97 L85.25 169.24 L85.35 168.53 L85.45 167.83 L85.56 167.14 L85.66 166.46 L85.77 165.80 L85.87 165.15 L85.98 164.50 L86.08 163.87 L86.18 163.26 L86.29 162.65 L86.39 162.05 L86.50 161.46 L86.60 160.89 L86.70 160.32 L86.81 159.77 L86.91 159.22 L87.02 158.68 L87.12 158.15 L87.23 157.63 L87.33 157.12 L87.43 156.62 L87.54 156.13 L87.64 155.64 L87.75 155.17 L87.85 154.70 L87.96 154.24 L88.06 153.79 L88.16 153.34 L88.27 152.90 L88.37 152.47 L88.48 152.05 L88.58 151.64 L88.68 151.23 L88.79 150.82 L88.89 150.43 L89.00 150.04 L89.10 149.66 L89.21 149.28 L89.31 148.91 L89.41 148.55 L89.52 148.19 L89.62 147.84 L89.73 147.50 L89.83 147.16 L89.93 146.82 L90.04 146.49 L90.14 146.17 L90.25 145.85 L90.35 145.54 L90.46 145.23 L90.56 144.93 L90.66 144.63 L90.77 144.34 L90.87 144.05 L90.98 143.76 L91.08 143.48 L91.18 143.21 L91.29 142.94 L91.39 142.67 L91.50 142.41 L91.60 142.15 L91.71 141.90 L91.81 141.65 L91.91 141.41 L92.02 141.17 L92.12 140.93 L92.23 140.69 L92.33 140.46 L92.44 140.24 L92.54 140.02 L92.64 139.80 L92.75 139.58 L92.85 139.37 L92.96 139.16 L93.06 138.95 L93.16 138.75 L93.27 138.55 L93.37 138.36 L93.48 138.16 L93.58 137.97 L93.69 137.79 L93.79 137.60 L93.89 137.42 L94.00 137.24 L94.10 137.07 L94.21 136.89 L94.31 136.72 L94.41 136.56 L94.52 136.39 L94.62 136.23 L94.73 136.07 L94.83 135.91 L94.94 135.76 L95.04 135.60 L95.14 135.45 L95.25 135.30 L95.35 135.16 L95.46 135.01 L95.56 134.87 L95.66 134.73 L95.77 134.60 L95.87 134.46 L95.98 134.33 L96.08 134.20 L96.19 134.07 L96.29 133.94 L96.39 133.82 L96.50 133.69 L96.60 133.57 L96.71 133.45 L96.81 133.34 L96.92 133.22 L97.02 133.11 L97.12 132.99 L97.23 132.88 L97.33 132.77 L97.44 132.67 L97.54 132.56 L97.64 132.46 L97.75 132.35 L97.85 132.25 L97.96 132.15 L98.06 132.05 L98.17 131.96 L98.27 131.86 L98.37 131.77 L98.48 131.68 L98.58 131.58 L98.69 131.49 L98.79 131.41 L98.89 131.32 L99.00 131.23 L99.10 131.15 L99.21 131.06 L99.31 130.98 L99.42 130.90 L99.52 130.82 L99.62 130.74 L99.73 130.66 L99.83 130.59 L99.94 130.51 L100.04 130.44 L100.14 130.36 L100.25 130.29 L100.35 130.22 L100.46 130.15 L100.56 130.08 L100.67 130.01 L100.77 129.95 L100.87 129.88 L100.98 129.81 L101.08 129.75 L101.19 129.69 L101.29 129.62 L101.39 129.56 L101.50 129.50 L101.60 129.44 L101.71 129.38 L101.81 129.32 L101.92 129.27 L102.02 129.21 L102.12 129.15 L102.23 129.10 L102.33 129.04 L102.44 128.99 L102.54 128.94 L102.65 128.88 L102.75 128.83 L102.85 128.78 L102.96 128.73 L103.06 128.68 L103.17 128.63 L103.27 128.58 L103.37 128.54 L103.48 128.49 L103.58 128.44 L103.69 128.40 L103.79 128.35 L103.90 128.31 L104.00 128.26 L104.10 128.22 L104.21 128.18 L104.31 128.13 L104.42 128.09 L104.52 128.05 L104.62 128.01 L104.73 127.97 L104.83 127.93 L104.94 127.89 L105.04 127.85 L105.15 127.82 L105.25 127.78 L105.35 127.74 L105.46 127.70 L105.56 127.67 L105.67 127.63 L105.77 127.60 L105.87 127.56 L105.98 127.53 L106.08 127.49 L106.19 127.46 L106.29 127.43 L106.40 127.39 L106.50 127.36 L106.60 127.33 L106.71 127.30 L106.81 127.26 L106.92 127.23 L107.02 127.20 L107.13 127.17 L107.23 127.14 L107.33 127.11 L107.44 127.08 L107.54 127.05 L107.65 127.03 L107.75 127.00 L107.85 126.97 L107.96 126.94 L108.06 126.91 L108.17 126.89 L108.27 126.86 L108.38 126.83 L108.48 126.81 L108.58 126.78 L108.69 126.76 L108.79 126.73 L108.90 126.71 L109.00 126.68 L109.10 126.66 L109.21 126.63 L109.31 126.61 L109.42 126.58 L109.52 126.56 L109.63 126.54 L109.73 126.51 L109.83 126.49 L109.94 126.47 L110.04 126.45 L110.15 126.42 L110.25 126.40 L110.35 126.38 L110.46 126.36 L110.56 126.34 L110.67 126.32 L110.77 126.29 L110.88 126.27 L110.98 126.25 L111.08 126.23 L111.19 126.21 L111.29 126.19 L111.40 126.17 L111.50 126.15 L111.60 126.13 L111.71 126.11 L111.81 126.09 L111.92 126.07 L112.02 126.06 L112.13 126.04 L112.23 126.02 L112.33 126.00 L112.44 125.98 L112.54 125.96 L112.65 125.94 L112.75 125.93 L112.86 125.91 L112.96 125.89 L113.06 125.87 L113.17 125.86 L113.27 125.84 L113.38 125.82 L113.48 125.80 L113.58 125.79 L113.69 125.77 L113.79 125.75 L113.90 125.74 L114.00 125.72 L114.11 125.70 L114.21 125.69 L114.31 125.67 L114.42 125.66 L114.52 125.64 L114.63 125.62 L114.73 125.61 L114.83 125.59 L114.94 125.58 L115.04 125.56 L115.15 125.54 L115.25 125.53 L115.36 125.51 L115.46 125.50 L115.56 125.48 L115.67 125.47 L115.77 125.45 L115.88 125.44 L115.98 125.42 L116.08 125.41 L116.19 125.39 L116.29 125.38 L116.40 125.36 L116.50 125.35 L116.61 125.34 L116.71 125.32 L117.61 125.20 L118.51 125.08 L119.42 124.96 L120.32 124.85 L121.22 124.74 L122.12 124.63 L123.02 124.52 L123.92 124.41 L124.83 124.30 L125.73 124.19 L126.63 124.08 L127.53 123.97 L128.43 123.86 L129.34 123.75 L130.24 123.63 L131.14 123.52 L132.04 123.41 L132.94 123.29 L133.84 123.17 L134.75 123.05 L135.65 122.93 L136.55 122.81 L137.45 122.69 L138.35 122.57 L139.26 122.44 L140.16 122.32 L141.06 122.19 L141.96 122.06 L142.86 121.94 L143.76 121.81 L144.67 121.68 L145.57 121.54 L146.47 121.41 L147.37 121.28 L148.27 121.14 L149.18 121.01 L150.08 120.87 L150.98 120.74 L151.88 120.60 L152.78 120.46 L153.68 120.32 L154.59 120.18 L155.49 120.05 L156.39 119.91 L157.29 119.77 L158.19 119.63 L159.09 119.48 L160.00 119.34 L160.90 119.20 L161.80 119.06 L162.70 118.92 L163.60 118.78 L164.51 118.63 L165.41 118.49 L166.31 118.35 L167.21 118.21 L168.11 118.07 L169.01 117.92 L169.92 117.78 L170.82 117.64 L171.72 117.50 L172.62 117.36 L173.52 117.21 L174.43 117.07 L175.33 116.93 L176.23 116.79 L177.13 116.65 L178.03 116.51 L178.93 116.37 L179.84 116.23 L180.74 116.09 L181.64 115.95 L182.54 115.81 L183.44 115.67 L184.35 115.53 L185.25 115.40 L186.15 115.26 L187.05 115.12 L187.95 114.98 L188.85 114.85 L189.76 114.71 L190.66 114.58 L191.56 114.44 L192.46 114.31 L193.36 114.17 L194.27 114.04 L195.17 113.91 L196.07 113.77 L196.97 113.64 L197.87 113.51 L198.77 113.38 L199.68 113.25 L200.58 113.12 L201.48 112.99 L202.38 112.86 L203.28 112.73 L204.19 112.60 L205.09 112.47 L205.99 112.34 L206.89 112.22 L207.79 112.09 L208.69 111.97 L209.60 111.84 L210.50 111.72 L211.40 111.59 L212.30 111.47 L213.20 111.35 L214.11 111.22 L215.01 111.10 L215.91 110.98 L216.81 110.86 L217.71 110.74 L218.61 110.62 L219.52 110.50 L220.42 110.38 L221.32 110.27 L222.22 110.15 L223.12 110.03 L224.02 109.92 L224.93 109.80 L225.83 109.69 L226.73 109.57 L227.63 109.46 L228.53 109.34 L229.44 109.23 L230.34 109.12 L231.24 109.01 L232.14 108.90 L233.04 108.79 L233.94 108.68 L234.85 108.57 L235.75 108.46 L236.65 108.35 L237.55 108.24 L238.45 108.13 L239.36 108.03 L240.26 107.92 L241.16 107.81 L242.06 107.71 L242.96 107.60 L243.86 107.50 L244.77 107.40 L245.67 107.29 L246.57 107.19 L247.47 107.09 L248.37 106.99 L249.28 106.89 L250.18 106.79 L251.08 106.69 L251.98 106.59 L252.88 106.49 L253.78 106.39 L254.69 106.29 L255.59 106.19 L256.49 106.10 L257.39 106.00 L258.29 105.90 L259.20 105.81 L260.10 105.71 L261.00 105.62 L261.90 105.52 L262.80 105.43 L263.70 105.34 L264.61 105.24 L265.51 105.15 L266.41 105.06 L267.31 104.97 L268.21 104.88 L269.12 104.79 L270.02 104.70 L270.92 104.61 L271.82 104.52 L272.72 104.43 L273.62 104.34 L274.53 104.25 L275.43 104.17 L276.33 104.08 L277.23 103.99 L278.13 103.91 L279.04 103.82 L279.94 103.74 L280.84 103.65 L281.74 103.57 L282.64 103.48 L283.54 103.40 L284.45 103.32 L285.35 103.23 L286.25 103.15 L287.15 103.07 L288.05 102.99 L288.95 102.91 L289.86 102.83 L290.76 102.75 L291.66 102.67 L292.56 102.59 L293.46 102.51 L294.37 102.43 L295.27 102.35 L296.17 102.27 L297.07 102.20 L297.97 102.12 L298.87 102.04 L299.78 101.96 L300.68 101.89 L301.58 101.81 L302.48 101.74 L303.38 101.66 L304.29 101.59 L305.19 101.51 L306.09 101.44 L306.99 101.37 L307.89 101.29 L308.79 101.22 L309.70 101.15 L310.60 101.08 L311.50 101.00 L312.40 100.93 L313.30 100.86 L314.21 100.79 L315.11 100.72 L316.01 100.65 L316.91 100.58 L317.81 100.51 L318.71 100.44 L319.62 100.37 L320.52 100.31 L321.42 100.24 L322.32 100.17 L323.22 100.10 L324.13 100.04 L325.03 99.97 L325.93 99.90 L326.83 99.84 L327.73 99.77 L328.63 99.70 L329.54 99.64 L330.44 99.57 L331.34 99.51 L332.24 99.45 L333.14 99.38 L334.05 99.32 L334.95 99.25 L335.85 99.19 L336.75 99.13 L337.65 99.07 L338.55 99.00 L339.46 98.94 L340.36 98.88 L341.26 98.82 L342.16 98.76 L343.06 98.70 L343.97 98.63 L344.87 98.57 L345.77 98.51 L346.67 98.45 L347.57 98.39 L348.47 98.34 L349.38 98.28 L350.28 98.22 L351.18 98.16 L352.08 98.10 L352.98 98.04 L353.88 97.99 L354.79 97.93 L355.69 97.87 L356.59 97.81 L357.49 97.76 L358.39 97.70 L359.30 97.64 L360.20 97.59 L361.10 97.53 L362.00 97.48 L362.90 97.42 L363.80 97.37 L364.71 97.31 L365.61 97.26 L366.51 97.20 L367.41 97.15 L368.31 97.09 L369.22 97.04 L370.12 96.99 L371.02 96.93 L371.92 96.88 L372.82 96.83 L373.72 96.78 L374.63 96.72 L375.53 96.67 L376.43 96.62 L377.33 96.57 L378.23 96.52 L379.14 96.47 L380.04 96.42 L380.94 96.37 L381.84 96.31 L382.74 96.26 L383.64 96.21 L384.55 96.16 L385.45 96.11 L386.35 96.07" stroke="#ffff00"/><path d="M79.20 247.87 L79.31 245.23 L79.41 242.65 L79.52 240.12 L79.62 237.64 L79.72 235.21 L79.83 232.84 L79.93 230.51 L80.04 228.23 L80.14 226.00 L80.25 223.81 L80.35 221.66 L80.45 219.55 L80.56 217.49 L80.66 215.47 L80.77 213.49 L80.87 211.54 L80.97 209.63 L81.08 207.76 L81.18 205.92 L81.29 204.12 L81.39 202.35 L81.50 200.62 L81.60 198.91 L81.70 197.24 L81.81 195.60 L81.91 193.99 L82.02 192.41 L82.12 190.85 L82.23 189.33 L82.33 187.83 L82.43 186.35 L82.54 184.91 L82.64 183.49 L82.75 182.09 L82.85 180.72 L82.95 179.37 L83.06 178.05 L83.16 176.74 L83.27 175.46 L83.37 174.21 L83.48 172.97 L83.58 171.75 L83.68 170.56 L83.79 169.38 L83.89 168.23 L84.00 167.09 L84.10 165.97 L84.20 164.87 L84.31 163.79 L84.41 162.72 L84.52 161.68 L84.62 160.65 L84.73 159.63 L84.83 158.63 L84.93 157.65 L85.04 156.69 L85.14 155.73 L85.25 154.80 L85.35 153.88 L85.45 152.97 L85.56 152.08 L85.66 151.20 L85.77 150.33 L85.87 149.48 L85.98 148.64 L86.08 147.81 L86.18 147.00 L86.29 146.20 L86.39 145.41 L86.50 144.63 L86.60 143.86 L86.70 143.11 L86.81 142.36 L86.91 141.63 L87.02 140.91 L87.12 140.20 L87.23 139.50 L87.33 138.81 L87.43 138.12 L87.54 137.45 L87.64 136.79 L87.75 136.14 L87.85 135.50 L87.96 134.86 L88.06 134.24 L88.16 133.62 L88.27 133.01 L88.37 132.42 L88.48 131.83 L88.58 131.24 L88.68 130.67 L88.79 130.10 L88.89 129.54 L89.00 128.99 L89.10 128.45 L89.21 127.91 L89.31 127.38 L89.41 126.86 L89.52 126.35 L89.62 125.84 L89.73 125.34 L89.83 124.84 L89.93 124.36 L90.04 123.87 L90.14 123.40 L90.25 122.93 L90.35 122.47 L90.46 122.01 L90.56 121.56 L90.66 121.11 L90.77 120.67 L90.87 120.24 L90.98 119.81 L91.08 119.39 L91.18 118.97 L91.29 118.56 L91.39 118.15 L91.50 117.75 L91.60 117.35 L91.71 116.96 L91.81 116.57 L91.91 116.19 L92.02 115.81 L92.12 115.44 L92.23 115.07 L92.33 114.70 L92.44 114.34 L92.54 113.99 L92.64 113.64 L92.75 113.29 L92.85 112.95 L92.96 112.61 L93.06 112.27 L93.16 111.94 L93.27 111.61 L93.37 111.29 L93.48 110.97 L93.58 110.65 L93.69 110.34 L93.79 110.03 L93.89 109.73 L94.00 109.43 L94.10 109.13 L94.21 108.83 L94.31 108.54 L94.41 108.25 L94.52 107.97 L94.62 107.68 L94.73 107.40 L94.83 107.13 L94.94 106.86 L95.04 106.59 L95.14 106.32 L95.25 106.05 L95.35 105.79 L95.46 105.54 L95.56 105.28 L95.66 105.03 L95.77 104.78 L95.87 104.53 L95.98 104.28 L96.08 104.04 L96.19 103.80 L96.29 103.56 L96.39 103.33 L96.50 103.10 L96.60 102.87 L96.71 102.64 L96.81 102.41 L96.92 102.19 L97.02 101.97 L97.12 101.75 L97.23 101.53 L97.33 101.32 L97.44 101.11 L97.54 100.90 L97.64 100.69 L97.75 100.48 L97.85 100.28 L97.96 100.08 L98.06 99.88 L98.17 99.68 L98.27 99.48 L98.37 99.29 L98.48 99.09 L98.58 98.90 L98.69 98.71 L98.79 98.53 L98.89 98.34 L99.00 98.16 L99.10 97.98 L99.21 97.80 L99.31 97.62 L99.42 97.44 L99.52 97.26 L99.62 97.09 L99.73 96.92 L99.83 96.75 L99.94 96.58 L100.04 96.41 L100.14 96.24 L100.25 96.08 L100.35 95.91 L100.46 95.75 L100.56 95.59 L100.67 95.43 L100.77 95.27 L100.87 95.12 L100.98 94.96 L101.08 94.81 L101.19 94.66 L101.29 94.51 L101.39 94.35 L101.50 94.21 L101.60 94.06 L101.71 93.91 L101.81 93.77 L101.92 93.62 L102.02 93.48 L102.12 93.34 L102.23 93.20 L102.33 93.06 L102.44 92.92 L102.54 92.78 L102.65 92.65 L102.75 92.51 L102.85 92.38 L102.96 92.24 L103.06 92.11 L103.17 91.98 L103.27 91.85 L103.37 91.72 L103.48 91.59 L103.58 91.47 L103.69 91.34 L103.79 91.22 L103.90 91.09 L104.00 90.97 L104.10 90.84 L104.21 90.72 L104.31 90.60 L104.42 90.48 L104.52 90.36 L104.62 90.25 L104.73 90.13 L104.83 90.01 L104.94 89.90 L105.04 89.78 L105.15 89.67 L105.25 89.55 L105.35 89.44 L105.46 89.33 L105.56 89.22 L105.67 89.11 L105.77 89.00 L105.87 88.89 L105.98 88.78 L106.08 88.67 L106.19 88.57 L106.29 88.46 L106.40 88.36 L106.50 88.25 L106.60 88.15 L106.71 88.04 L106.81 87.94 L106.92 87.84 L107.02 87.74 L107.13 87.64 L107.23 87.54 L107.33 87.44 L107.44 87.34 L107.54 87.24 L107.65 87.14 L107.75 87.04 L107.85 86.95 L107.96 86.85 L108.06 86.76 L108.17 86.66 L108.27 86.57 L108.38 86.47 L108.48 86.38 L108.58 86.29 L108.69 86.20 L108.79 86.10 L108.90 86.01 L109.00 85.92 L109.10 85.83 L109.21 85.74 L109.31 85.65 L109.42 85.57 L109.52 85.48 L109.63 85.39 L109.73 85.30 L109.83 85.22 L109.94 85.13 L110.04 85.04 L110.15 84.96 L110.25 84.87 L110.35 84.79 L110.46 84.70 L110.56 84.62 L110.67 84.54 L110.77 84.45 L110.88 84.37 L110.98 84.29 L111.08 84.21 L111.19 84.13 L111.29 84.05 L111.40 83.97 L111.50 83.89 L111.60 83.81 L111.71 83.73 L111.81 83.65 L111.92 83.57 L112.02 83.49 L112.13 83.42 L112.23 83.34 L112.33 83.26 L112.44 83.18 L112.54 83.11 L112.65 83.03 L112.75 82.96 L112.86 82.88 L112.96 82.81 L113.06 82.73 L113.17 82.66 L113.27 82.58 L113.38 82.51 L113.48 82.44 L113.58 82.36 L113.69 82.29 L113.79 82.22 L113.90 82.15 L114.00 82.08 L114.11 82.00 L114.21 81.93 L114.31 81.86 L114.42 81.79 L114.52 81.72 L114.63 81.65 L114.73 81.58 L114.83 81.51 L114.94 81.44 L115.04 81.37 L115.15 81.31 L115.25 81.24 L115.36 81.17 L115.46 81.10 L115.56 81.03 L115.67 80.97 L115.77 80.90 L115.88 80.83 L115.98 80.77 L116.08 80.70 L116.19 80.63 L116.29 80.57 L116.40 80.50 L116.50 80.44 L116.61 80.37 L116.71 80.31 L117.61 79.76 L118.51 79.22 L119.42 78.70 L120.32 78.19 L121.22 77.70 L122.12 77.21 L123.02 76.74 L123.92 76.28 L124.83 75.83 L125.73 75.38 L126.63 74.95 L127.53 74.52 L128.43 74.10 L129.34 73.69 L130.24 73.28 L131.14 72.88 L132.04 72.48 L132.94 72.10 L133.84 71.71 L134.75 71.33 L135.65 70.96 L136.55 70.59 L137.45 70.23 L138.35 69.87 L139.26 69.51 L140.16 69.16 L141.06 68.82 L141.96 68.47 L142.86 68.13 L143.76 67.80 L144.67 67.46 L145.57 67.13 L146.47 66.81 L147.37 66.49 L148.27 66.17 L149.18 65.85 L150.08 65.54 L150.98 65.23 L151.88 64.92 L152.78 64.61 L153.68 64.31 L154.59 64.01 L155.49 63.71 L156.39 63.42 L157.29 63.13 L158.19 62.84 L159.09 62.55 L160.00 62.27 L160.90 61.99 L161.80 61.71 L162.70 61.43 L163.60 61.16 L164.51 60.88 L165.41 60.61 L166.31 60.35 L167.21 60.08 L168.11 59.82 L169.01 59.56 L169.92 59.30 L170.82 59.04 L171.72 58.78 L172.62 58.53 L173.52 58.28 L174.43 58.03 L175.33 57.78 L176.23 57.54 L177.13 57.30 L178.03 57.06 L178.93 56.82 L179.84 56.58 L180.74 56.34 L181.64 56.11 L182.54 55.88 L183.44 55.65 L184.35 55.42 L185.25 55.19 L186.15 54.97 L187.05 54.75 L187.95 54.52 L188.85 54.30 L189.76 54.09 L190.66 53.87 L191.56 53.66 L192.46 53.44 L193.36 53.23 L194.27 53.02 L195.17 52.81 L196.07 52.61 L196.97 52.40 L197.87 52.20 L198.77 51.99 L199.68 51.79 L200.58 51.59 L201.48 51.40 L202.38 51.20 L203.28 51.01 L204.19 50.81 L205.09 50.62 L205.99 50.43 L206.89 50.24 L207.79 50.05 L208.69 49.87 L209.60 49.68 L210.50 49.50 L211.40 49.32 L212.30 49.13 L213.20 48.95 L214.11 48.78 L215.01 48.60 L215.91 48.42 L216.81 48.25 L217.71 48.07 L218.61 47.90 L219.52 47.73 L220.42 47.56 L221.32 47.39 L222.22 47.22 L223.12 47.06 L224.02 46.89 L224.93 46.73 L225.83 46.56 L226.73 46.40 L227.63 46.24 L228.53 46.08 L229.44 45.92 L230.34 45.77 L231.24 45.61 L232.14 45.45 L233.04 45.30 L233.94 45.15 L234.85 44.99 L235.75 44.84 L236.65 44.69 L237.55 44.54 L238.45 44.40 L239.36 44.25 L240.26 44.10 L241.16 43.96 L242.06 43.81 L242.96 43.67 L243.86 43.53 L244.77 43.38 L245.67 43.24 L246.57 43.10 L247.47 42.97 L248.37 42.83 L249.28 42.69 L250.18 42.55 L251.08 42.42 L251.98 42.28 L252.88 42.15 L253.78 42.02 L254.69 41.89 L255.59 41.76 L256.49 41.63 L257.39 41.50 L258.29 41.37 L259.20 41.24 L260.10 41.11 L261.00 40.99 L261.90 40.86 L262.80 40.74 L263.70 40.61 L264.61 40.49 L265.51 40.37 L266.41 40.25 L267.31 40.13 L268.21 40.01 L269.12 39.89 L270.02 39.77 L270.92 39.65 L271.82 39.53 L272.72 39.42 L273.62 39.30 L274.53 39.19 L275.43 39.07 L276.33 38.96 L277.23 38.85 L278.13 38.73 L279.04 38.62 L279.94 38.51 L280.84 38.40 L281.74 38.29 L282.64 38.18 L283.54 38.07 L284.45 37.97 L285.35 37.86 L286.25 37.75 L287.15 37.65 L288.05 37.54 L288.95 37.44 L289.86 37.33 L290.76 37.23 L291.66 37.13 L292.56 37.02 L293.46 36.92 L294.37 36.82 L295.27 36.72 L296.17 36.62 L297.07 36.52 L297.97 36.42 L298.87 36.32 L299.78 36.23 L300.68 36.13 L301.58 36.03 L302.48 35.94 L303.38 35.84 L304.29 35.75 L305.19 35.65 L306.09 35.56 L306.99 35.46 L307.89 35.37 L308.79 35.28 L309.70 35.19 L310.60 35.09 L311.50 35.00 L312.40 34.91 L313.30 34.82 L314.21 34.73 L315.11 34.64 L316.01 34.56 L316.91 34.47 L317.81 34.38 L318.71 34.29 L319.62 34.21 L320.52 34.12 L321.42 34.04 L322.32 33.95 L323.22 33.87 L324.13 33.78 L325.03 33.70 L325.93 33.61 L326.83 33.53 L327.73 33.45 L328.63 33.37 L329.54 33.28 L330.44 33.20 L331.34 33.12 L332.24 33.04 L333.14 32.96 L334.05 32.88 L334.95 32.80 L335.85 32.72 L336.75 32.64 L337.65 32.57 L338.55 32.49 L339.46 32.41 L340.36 32.33 L341.26 32.26 L342.16 32.18 L343.06 32.11 L343.97 32.03 L344.87 31.96 L345.77 31.88 L346.67 31.81 L347.57 31.73 L348.47 31.66 L349.38 31.59 L350.28 31.51 L351.18 31.44 L352.08 31.37 L352.98 31.30 L353.88 31.23 L354.79 31.16 L355.69 31.08 L356.59 31.01 L357.49 30.94 L358.39 30.87 L359.30 30.80 L360.20 30.74 L361.10 30.67 L362.00 30.60 L362.90 30.53 L363.80 30.46 L364.71 30.40 L365.61 30.33 L366.51 30.26 L367.41 30.20 L368.31 30.13 L369.22 30.06 L370.12 30.00 L371.02 29.93 L371.92 29.87 L372.82 29.80 L373.72 29.74 L374.63 29.68 L375.53 29.61 L376.43 29.55 L377.33 29.49 L378.23 29.42 L379.14 29.36 L380.04 29.30 L380.94 29.24 L381.84 29.17 L382.74 29.11 L383.64 29.05 L384.55 28.99 L385.45 28.93 L386.35 28.87" stroke="#ff8000"/></g>
<g opacity="0.30"><text transform="translate(88.60 18.70) scale(0.917 1)" font-size="14.40" font-style="italic" fill="#000">B = 0</text><text transform="translate(88.60 51.20) scale(0.917 1)" font-size="14.40" font-style="italic" fill="#000">B = 0.05</text><text transform="translate(88.60 83.70) scale(0.917 1)" font-size="14.40" font-style="italic" fill="#000">B = 0.1</text><text transform="translate(88.60 116.20) scale(0.917 1)" font-size="14.40" font-style="italic" fill="#000">B = 0.15</text><text transform="translate(88.60 148.70) scale(0.917 1)" font-size="14.40" font-style="italic" fill="#000">B = 0.2</text></g>
<g fill="none" stroke="#7f7f7f" stroke-width="1.00"><rect x="49.30" y="5.90" width="337.05" height="208.45"/><path d="M49.30 214.35v-4.20M49.30 5.90v4.20M60.53 214.35v-2.50M60.53 5.90v2.50M71.77 214.35v-2.50M71.77 5.90v2.50M83.00 214.35v-2.50M83.00 5.90v2.50M94.24 214.35v-2.50M94.24 5.90v2.50M105.47 214.35v-4.20M105.47 5.90v4.20M116.71 214.35v-2.50M116.71 5.90v2.50M127.95 214.35v-2.50M127.95 5.90v2.50M139.18 214.35v-2.50M139.18 5.90v2.50M150.42 214.35v-2.50M150.42 5.90v2.50M161.65 214.35v-4.20M161.65 5.90v4.20M172.88 214.35v-2.50M172.88 5.90v2.50M184.12 214.35v-2.50M184.12 5.90v2.50M195.36 214.35v-2.50M195.36 5.90v2.50M206.59 214.35v-2.50M206.59 5.90v2.50M217.82 214.35v-4.20M217.82 5.90v4.20M229.06 214.35v-2.50M229.06 5.90v2.50M240.30 214.35v-2.50M240.30 5.90v2.50M251.53 214.35v-2.50M251.53 5.90v2.50M262.77 214.35v-2.50M262.77 5.90v2.50M274.00 214.35v-4.20M274.00 5.90v4.20M285.24 214.35v-2.50M285.24 5.90v2.50M296.47 214.35v-2.50M296.47 5.90v2.50M307.71 214.35v-2.50M307.71 5.90v2.50M318.94 214.35v-2.50M318.94 5.90v2.50M330.18 214.35v-4.20M330.18 5.90v4.20M341.41 214.35v-2.50M341.41 5.90v2.50M352.65 214.35v-2.50M352.65 5.90v2.50M363.88 214.35v-2.50M363.88 5.90v2.50M375.12 214.35v-2.50M375.12 5.90v2.50M386.35 214.35v-4.20M386.35 5.90v4.20M49.30 214.35h4.20M386.35 214.35h-4.20M49.30 207.40h2.50M386.35 207.40h-2.50M49.30 200.45h2.50M386.35 200.45h-2.50M49.30 193.50h2.50M386.35 193.50h-2.50M49.30 186.56h2.50M386.35 186.56h-2.50M49.30 179.61h4.20M386.35 179.61h-4.20M49.30 172.66h2.50M386.35 172.66h-2.50M49.30 165.71h2.50M386.35 165.71h-2.50M49.30 158.76h2.50M386.35 158.76h-2.50M49.30 151.81h2.50M386.35 151.81h-2.50M49.30 144.87h4.20M386.35 144.87h-4.20M49.30 137.92h2.50M386.35 137.92h-2.50M49.30 130.97h2.50M386.35 130.97h-2.50M49.30 124.02h2.50M386.35 124.02h-2.50M49.30 117.07h2.50M386.35 117.07h-2.50M49.30 110.13h4.20M386.35 110.13h-4.20M49.30 103.18h2.50M386.35 103.18h-2.50M49.30 96.23h2.50M386.35 96.23h-2.50M49.30 89.28h2.50M386.35 89.28h-2.50M49.30 82.33h2.50M386.35 82.33h-2.50M49.30 75.38h4.20M386.35 75.38h-4.20M49.30 68.44h2.50M386.35 68.44h-2.50M49.30 61.49h2.50M386.35 61.49h-2.50M49.30 54.54h2.50M386.35 54.54h-2.50M49.30 47.59h2.50M386.35 47.59h-2.50M49.30 40.64h4.20M386.35 40.64h-4.20M49.30 33.69h2.50M386.35 33.69h-2.50M49.30 26.74h2.50M386.35 26.74h-2.50M49.30 19.80h2.50M386.35 19.80h-2.50M49.30 12.85h2.50M386.35 12.85h-2.50M49.30 5.90h4.20M386.35 5.90h-4.20"/></g>
<g font-size="10.70" fill="#606060"><text x="49.30" y="227.70" text-anchor="middle">0</text><text x="105.47" y="227.70" text-anchor="middle">5</text><text x="161.65" y="227.70" text-anchor="middle">10</text><text x="217.82" y="227.70" text-anchor="middle">15</text><text x="274.00" y="227.70" text-anchor="middle">20</text><text x="330.18" y="227.70" text-anchor="middle">25</text><text x="386.35" y="227.70" text-anchor="middle">30</text><text x="46.25" y="218.30" text-anchor="end">0.95</text><text x="46.25" y="183.56" text-anchor="end">1.00</text><text x="46.25" y="148.82" text-anchor="end">1.05</text><text x="46.25" y="114.07" text-anchor="end">1.10</text><text x="46.25" y="79.33" text-anchor="end">1.15</text><text x="46.25" y="44.59" text-anchor="end">1.20</text><text x="46.25" y="9.85" text-anchor="end">1.25</text></g>
<text transform="translate(214.70 250.60) scale(1.2 1)" font-size="16.00" font-style="italic" fill="#000">r</text>
<text transform="translate(14.50 122.60) rotate(-90)" font-size="16.00" font-style="italic" fill="#000">V<tspan font-size="13.00" dy="3.30">eff</tspan></text>
</svg>
</body></html>
